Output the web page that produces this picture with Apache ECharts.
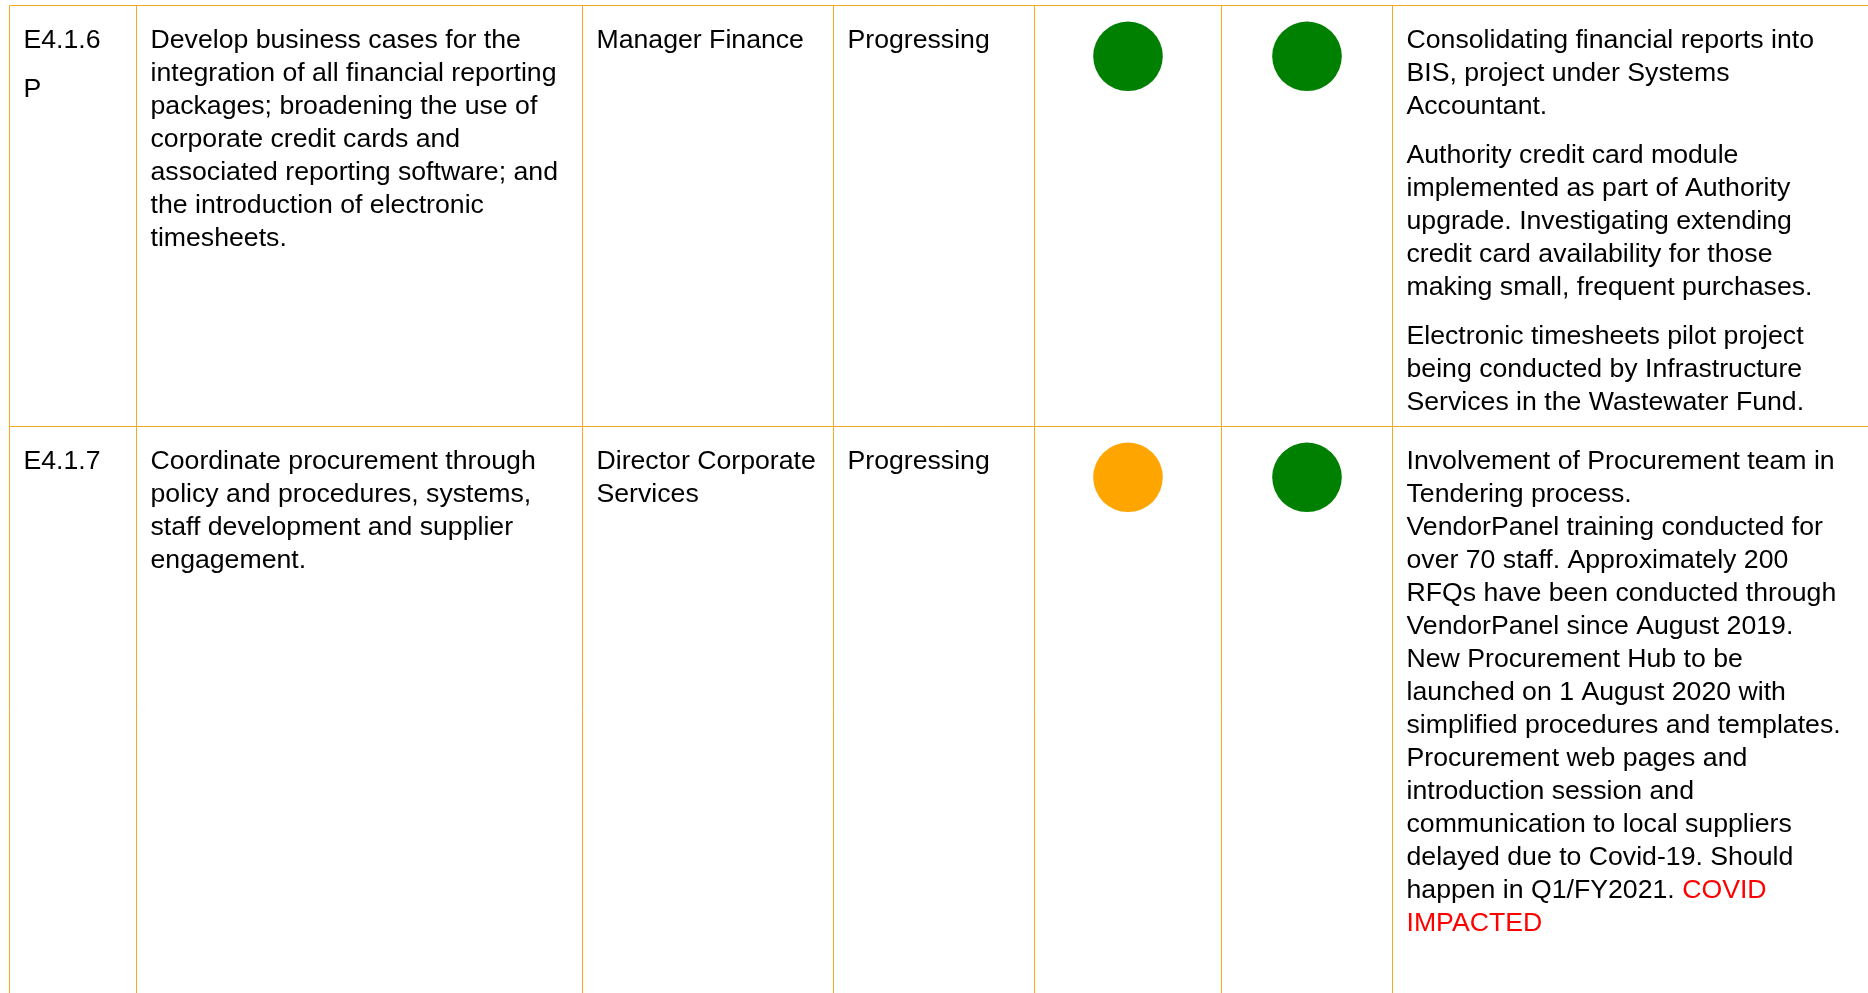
<!DOCTYPE html>
<html>
<head>
<meta charset="utf-8">
<script src="https://cdn.jsdelivr.net/npm/echarts@6/dist/echarts.min.js"></script>
<style>
  html, body { margin: 0; padding: 0; background: #ffffff; }
  #chart { width: 1868px; height: 993px; }
</style>
</head>
<body>
<div id="chart"></div>
<script>
// ---------- DATA ----------
const actionIds = [
  [['E4.1.6'], ['P']],
  [['E4.1.7']]
];
const actions = [
  ['Develop business cases for the', 'integration of all financial reporting', 'packages; broadening the use of',
   'corporate credit cards and', 'associated reporting software; and', 'the introduction of electronic', 'timesheets.'],
  ['Coordinate procurement through', 'policy and procedures, systems,', 'staff development and supplier', 'engagement.']
];
const responsible = [
  ['Manager Finance'],
  ['Director Corporate', 'Services']
];
const statuses = [
  ['Progressing'],
  ['Progressing']
];
const ratingCurrent = ['Green', 'Amber'];
const ratingTarget = ['Green', 'Green'];
const comments = [
  [
    ['Consolidating financial reports into', 'BIS, project under Systems', 'Accountant.'],
    ['Authority credit card module', 'implemented as part of Authority', 'upgrade. Investigating extending',
     'credit card availability for those', 'making small, frequent purchases.'],
    ['Electronic timesheets pilot project', 'being conducted by Infrastructure', 'Services in the Wastewater Fund.']
  ],
  [
    ['Involvement of Procurement team in', 'Tendering process.', 'VendorPanel training conducted for',
     'over 70 staff. Approximately 200', 'RFQs have been conducted through', 'VendorPanel since August 2019.',
     'New Procurement Hub to be', 'launched on 1 August 2020 with', 'simplified procedures and templates.',
     'Procurement web pages and', 'introduction session and', 'communication to local suppliers',
     'delayed due to Covid-19. Should', 'happen in Q1/FY2021. COVID', 'IMPACTED']
  ]
];
const flaggedComments = ['', 'COVID IMPACTED'];

// ---------- LAYOUT / STYLE ----------
const W = 1868, H = 993;
const colEdges = [9.5, 136.5, 582.5, 833.5, 1034.5, 1221.5, 1392.5];
const rowEdges = [5.5, 426.5, 1100];
const pad = 14;
const textTop = 18.3;
const lineH = 33;
const paraGap = 16;
const fontSize = 26.67;
const fontFamily = '"Liberation Sans", Arial, Helvetica, sans-serif';
const borderColor = '#F3A724';
const ragColors = { Green: '#008000', Amber: '#FFA500', Red: '#FF0000' };
const dotOffset = 50.8;
const dotR = 34.8;

function paraElements(api, paragraphs, colIdx, rowTop, flag) {
  const els = [];
  let y = rowTop + textTop;
  const x = colEdges[colIdx] + pad;
  const flagWords = flag ? flag.split(/\s+/).filter(Boolean) : [];
  let totalWords = 0;
  paragraphs.forEach(p => p.forEach(l => { totalWords += l.split(' ').filter(Boolean).length; }));
  const flagStart = totalWords - flagWords.length;
  let wordIdx = 0;
  paragraphs.forEach(lines => {
    let txt;
    let useRich = false;
    if (flagWords.length) {
      txt = lines.map(line => {
        const words = line.split(' ');
        const parts = words.map(w => {
          if (!w) return w;
          const isF = wordIdx >= flagStart;
          wordIdx++;
          if (isF) { useRich = true; return '{red|' + w + '}'; }
          return w;
        });
        return parts.join(' ');
      }).join('\n');
    } else {
      txt = lines.join('\n');
    }
    const p = api.coord([x, y]);
    const style = {
      text: txt,
      x: p[0], y: p[1],
      fill: '#000000',
      fontSize: fontSize,
      fontFamily: fontFamily,
      lineHeight: lineH,
      align: 'left',
      verticalAlign: 'top'
    };
    if (useRich) {
      style.rich = { red: { fill: '#FF0000', fontSize: fontSize, fontFamily: fontFamily, lineHeight: lineH } };
    }
    els.push({ type: 'text', silent: true, style: style });
    y += lines.length * lineH + paraGap;
  });
  return els;
}

function renderRow(params, api) {
  const r = params.dataIndex;
  const top = rowEdges[r];
  const bottom = rowEdges[r + 1];
  const children = [];
  const a = api.coord([colEdges[0], top]);
  const b = api.coord([W, top]);
  children.push({ type: 'line', shape: { x1: a[0], y1: a[1], x2: b[0], y2: b[1] },
    style: { stroke: borderColor, lineWidth: 1 } });
  colEdges.forEach(cx => {
    const p1 = api.coord([cx, top]);
    const p2 = api.coord([cx, bottom]);
    children.push({ type: 'line', shape: { x1: p1[0], y1: p1[1], x2: p2[0], y2: p2[1] },
      style: { stroke: borderColor, lineWidth: 1 } });
  });
  children.push(...paraElements(api, actionIds[r], 0, top));
  children.push(...paraElements(api, [actions[r]], 1, top));
  children.push(...paraElements(api, [responsible[r]], 2, top));
  children.push(...paraElements(api, [statuses[r]], 3, top));
  children.push(...paraElements(api, comments[r], 6, top, flaggedComments[r]));
  [[ratingCurrent, 4], [ratingTarget, 5]].forEach(([arr, c]) => {
    const cx = (colEdges[c] + colEdges[c + 1]) / 2;
    const p = api.coord([cx, top + dotOffset]);
    children.push({ type: 'circle', shape: { cx: p[0], cy: p[1], r: dotR },
      style: { fill: ragColors[arr[r]] } });
  });
  return { type: 'group', children: children };
}

const chart = echarts.init(document.getElementById('chart'), null, { renderer: 'canvas' });
chart.setOption({
  backgroundColor: '#ffffff',
  animation: false,
  grid: { left: 0, right: 0, top: 0, bottom: 0 },
  xAxis: { type: 'value', min: 0, max: W, show: false },
  yAxis: { type: 'value', min: 0, max: H, inverse: true, show: false },
  series: [{
    type: 'custom',
    silent: true,
    clip: false,
    renderItem: renderRow,
    data: actionIds.map((_, i) => [i, 0])
  }]
});
</script>
</body>
</html>
